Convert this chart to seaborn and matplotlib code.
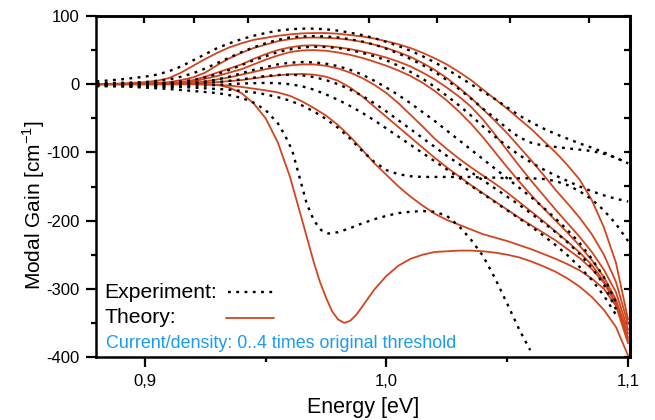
import numpy as np
import pandas as pd
import matplotlib
matplotlib.use('Agg')
import matplotlib.pyplot as plt
import seaborn as sns
from matplotlib.lines import Line2D

# energy grid (eV) shared by most curves
E_GRID = [0.88, 0.89, 0.90, 0.905, 0.91, 0.915, 0.92, 0.925, 0.93, 0.935, 0.94, 0.945,
          0.95, 0.955, 0.96, 0.965, 0.97, 0.975, 0.98, 0.985, 0.99, 0.995, 1.00, 1.005,
          1.01, 1.015, 1.02, 1.025, 1.03, 1.035, 1.04, 1.045, 1.05, 1.055, 1.06, 1.065,
          1.07, 1.075, 1.08, 1.085, 1.09, 1.095, 1.10]

# theory, modal gain in cm^-1, high -> low current density
T1 = [0, 1, 3, 5, 9, 17, 27, 37, 46, 54, 60, 65, 68, 71, 73, 74.5, 75, 75, 74, 72, 70, 67,
      63, 58.5, 53, 46, 38, 29, 18, 6, -8, -22, -36, -51, -66, -83, -100, -119, -140, -170,
      -210, -262, -345]
T2 = [0, 0, 1, 2, 3, 6, 10, 17, 28, 38, 46, 53, 58, 63, 66, 68, 68.5, 68, 67, 65, 62, 58,
      53, 47, 40, 31, 21, 9, -5, -20, -37, -54, -72, -92, -112, -133, -155, -175, -196, -220,
      -250, -290, -352]
T3 = [0, 0, 1, 1, 2, 3, 6, 11, 17, 23, 29, 37, 44, 50, 54, 56.5, 57, 56, 54, 51.5, 48, 44,
      39, 33, 26, 17, 7, -5, -18, -33, -52, -74, -97, -120, -142, -163, -184, -204, -224, -246,
      -272, -305, -360]
T4 = [0, 0, 0, 0, 1, 2, 4, 8, 12, 17, 22, 29, 36, 42, 47, 49.5, 50, 49, 46.5, 43, 38.5, 33,
      27, 20, 12, 2, -10, -24, -40, -58, -78, -100, -122, -143, -163, -182, -200, -218, -237,
      -258, -283, -316, -366]
T5 = [0, 0, 0, 0, 1, 1, 2, 4, 7, 10, 14, 18, 22, 25, 27.5, 29, 29, 27, 23, 17, 9, -1,
      -13, -28, -45, -62, -80, -95, -109, -122, -134, -146, -159, -173, -187, -201, -216, -231,
      -247, -265, -289, -320, -372]
T6 = [0, 0, 0, 0, 0, 0, 1, 2, 3, 4.5, 6, 8.5, 11, 13, 14.5, 15, 14, 11, 5, -5, -18, -33,
      -48, -63, -78, -93, -108, -122, -135, -148, -160, -172, -184, -196, -207, -218, -229, -242,
      -255, -271, -291, -322, -376]
T7 = [0, 0, 0, 0, 0, 0, 0, 0, -1, -2, -4, -6.5, -9, -12, -17, -25, -35, -46, -60, -77, -96,
      -116, -133, -150, -165, -178, -190, -199, -206, -213, -220, -225, -230, -236, -242, -249,
      -256, -264, -273, -285, -300, -325, -380]
# lowest current: absorption dip, read on a finer grid around the minimum
T8_E = [0.88, 0.90, 0.92, 0.93, 0.935, 0.94, 0.945, 0.95, 0.955, 0.96, 0.965, 0.97, 0.9725,
        0.975, 0.9775, 0.98, 0.9825, 0.985, 0.9875, 0.99, 0.995, 1.00, 1.005, 1.01, 1.015,
        1.02, 1.025, 1.03, 1.035, 1.04, 1.045, 1.05, 1.055, 1.06, 1.065, 1.07, 1.075, 1.08,
        1.085, 1.09, 1.095, 1.10]
T8 = [0, 0, 0, -1, -5, -13, -28, -50, -85, -135, -198, -262, -290,
      -313, -333, -345, -350, -347, -338, -326, -301, -281, -266, -256, -250,
      -246, -245, -244, -244, -245, -247, -250, -254, -260, -267, -275, -285, -297,
      -312, -331, -356, -398]

# experiment
D1 = [4, 7, 11, 14, 19, 26, 35, 44, 53, 60, 66, 71, 75, 78.5, 80.5, 81.5, 81.5, 80.5, 78.5,
      75.5, 72, 67.5, 62, 56, 49, 41, 32, 22, 11, 0, -11, -22, -34, -46, -56, -65, -73, -80,
      -87, -93, -100, -108, -116]
D2 = [1, 2, 3, 5, 7, 11, 16, 23, 31, 39, 47, 54, 60, 65, 68.5, 70, 70.5, 70, 68.5, 66, 62.5,
      58, 52, 45, 37, 28, 18, 6, -7, -21, -36, -50, -65, -78, -86, -90, -92, -94, -96, -98,
      -102, -108, -116]
D3 = [0, 1, 1, 2, 2, 4, 6, 10, 15, 21, 28, 35, 41, 47, 51, 54, 55, 54.5, 53, 50, 46, 41, 35,
      27, 18, 8, -4, -17, -31, -46, -62, -77, -91, -104, -115, -125, -134, -142, -150, -157,
      -163, -168, -172]
D4 = [-1, 0, 0, 0, 1, 1, 2, 4, 7, 11, 16, 21, 25, 29, 31.5, 32.5, 32, 30, 26.5, 21, 14, 5,
      -5, -16, -28, -41, -54, -68, -82, -96, -110, -124, -138, -152, -166, -181, -197, -214,
      -233, -256, -283, -320, np.nan]
D5 = [-2, -1, -1, 0, 0, 1, 1, 2, 3, 5, 7, 9.5, 12, 13.5, 14, 13, 10.5, 6, 0, -8, -17, -28,
      -40, -53, -66, -79, -92, -105, -117, -129, -141, -153, -165, -177, -190, -203, -217, -232,
      -249, -269, -294, -330, np.nan]
D6 = [-3, -3, -3, -3, -3, -3, -2, -2, -1, 0, 1, 1.5, 2, 1.5, 0, -3, -8, -15, -23, -32, -42,
      -53, -65, -77, -89, -101, -113, -125, -137, -149, -161, -173, -185, -197, -209, -222,
      -236, -251, -268, -287, -310, -338, np.nan]
D7 = [-1, -2, -3, -3, -4, -4, -5, -6, -7, -8, -10, -12, -15, -19, -24, -31, -40, -51, -64,
      -80, -98, -114, -126, -132, -135, -136, -136, -136, -136, -136, -137, -137, -138, -138,
      -138, -139, -142, -148, -157, -169, -185, -205, -230]
D8_E = [0.88, 0.89, 0.90, 0.91, 0.92, 0.93, 0.935, 0.94, 0.945, 0.95, 0.955, 0.958, 0.961,
        0.964, 0.967, 0.970, 0.973, 0.976, 0.98, 0.985, 0.99, 0.995, 1.00, 1.005, 1.01, 1.015,
        1.02, 1.025, 1.03, 1.035, 1.04, 1.045, 1.05, 1.055, 1.0595]
D8 = [-2, -3, -5, -7, -10, -13, -16, -20, -27, -38, -57, -75, -97, -136, -175, -200, -214,
      -219, -217, -211, -204, -198, -193, -189, -187, -186, -187, -193, -208, -228, -252, -285,
      -322, -360, -390]

# unlabelled ticks along the top edge
TOP_TICKS = [0.8996, 0.9202, 0.9425, 0.9927, 1.0208, 1.0512, 1.0837]

RED = '#d2451e'
BLUE = '#1a9cf0'
DOTS = (0, (1.2, 2.3))


def long_df(curves):
    frames = [pd.DataFrame({'E': e, 'G': g, 'curve': name}) for name, e, g in curves]
    return pd.concat(frames, ignore_index=True).dropna()


theory = long_df([('T1', E_GRID, T1), ('T2', E_GRID, T2), ('T3', E_GRID, T3),
                  ('T4', E_GRID, T4), ('T5', E_GRID, T5), ('T6', E_GRID, T6),
                  ('T7', E_GRID, T7), ('T8', T8_E, T8)])
experiment = long_df([('D1', E_GRID, D1), ('D2', E_GRID, D2), ('D3', E_GRID, D3),
                      ('D4', E_GRID, D4), ('D5', E_GRID, D5), ('D6', E_GRID, D6),
                      ('D7', E_GRID, D7), ('D8', D8_E, D8)])

sns.set_style('ticks')
plt.rcParams['font.family'] = ['Liberation Sans', 'DejaVu Sans']
plt.rcParams['mathtext.fontset'] = 'custom'
plt.rcParams['mathtext.rm'] = 'Liberation Sans'
plt.rcParams['axes.unicode_minus'] = False
for key in ['text.color', 'axes.labelcolor', 'xtick.color', 'ytick.color', 'axes.edgecolor']:
    plt.rcParams[key] = 'black'

fig = plt.figure(figsize=(6.55, 4.2), dpi=100)
ax = fig.add_axes([96 / 655, 1 - 357 / 420, 534 / 655, 341 / 420])

sns.lineplot(data=theory, x='E', y='G', units='curve', estimator=None,
             color=RED, lw=1.3, legend=False, ax=ax)
sns.lineplot(data=experiment, x='E', y='G', units='curve', estimator=None,
             color='black', lw=1.7, linestyle=DOTS, legend=False, ax=ax)

ax.set_xlim(0.8798, 1.1008)
ax.set_ylim(-400, 100)
ax.set_xticks([0.9, 1.0, 1.1], ['0,9', '1,0', '1,1'])
ax.set_xticks([0.95, 1.05], minor=True)
ax.set_yticks(np.arange(-400, 101, 100))
ax.set_yticks(np.arange(-350, 100, 100), minor=True)
ax.tick_params(which='major', direction='out', length=7, width=1.6, labelsize=12, pad=5)
ax.tick_params(which='minor', direction='out', length=3.5, width=1.6)
for s in ax.spines.values():
    s.set_linewidth(1.8)
    s.set_visible(True)

top = ax.secondary_xaxis('top')
top.set_xticks(TOP_TICKS)
top.tick_params(direction='in', length=5, width=1.6, labeltop=False)
top.spines['top'].set_linewidth(1.8)
right = ax.secondary_yaxis('right')
right.set_yticks(np.arange(-400, 101, 50))
right.tick_params(direction='in', length=4, width=1.6, labelright=False)
right.spines['right'].set_linewidth(2.2)

ax.set_xlabel('Energy [eV]', fontsize=15.5, labelpad=6)
ax.set_ylabel(r'Modal Gain [cm$^{\mathregular{-1}}$]', fontsize=15)
ax.yaxis.set_label_coords(-0.092, 0.446)

# key, drawn by hand so the samples line up to the right of the labels
ax.text(0.015, 0.173, 'Experiment:', fontsize=15.2, va='baseline', transform=ax.transAxes)
ax.text(0.015, 0.100, 'Theory:', fontsize=15.2, va='baseline', transform=ax.transAxes)
ax.add_line(Line2D([0.247, 0.339], [0.1915, 0.1915], color='black', lw=1.7,
                   linestyle=DOTS, transform=ax.transAxes))
ax.add_line(Line2D([0.243, 0.333], [0.1135, 0.1135], color=RED, lw=1.3,
                   transform=ax.transAxes))
ax.text(0.018, 0.027, 'Current/density: 0..4 times original threshold', color=BLUE,
        fontsize=12.9, va='baseline', transform=ax.transAxes)

fig.savefig('out.png', dpi=100)
